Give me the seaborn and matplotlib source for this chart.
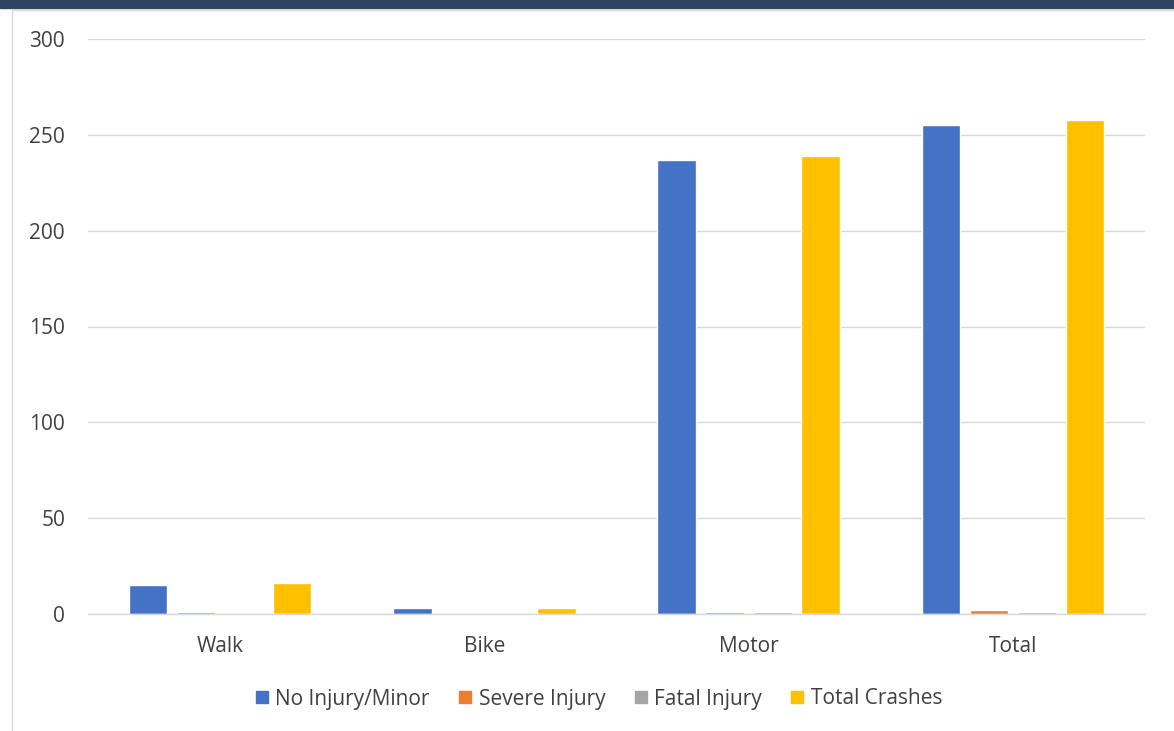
import matplotlib
matplotlib.use("Agg")
import matplotlib.pyplot as plt
import seaborn as sns
import pandas as pd
from matplotlib.patches import Rectangle
from matplotlib.lines import Line2D

categories = ["Walk", "Bike", "Motor", "Total"]
series_names = ["No Injury/Minor", "Severe Injury", "Fatal Injury", "Total Crashes"]
no_injury = [15, 3, 237, 255]
severe = [1, 0, 1, 2]
fatal = [0, 0, 1, 1]
total_crashes = [16, 3, 239, 258]
colors = ["#4472C4", "#ED7D31", "#A5A5A5", "#FFC000"]
yticks = [0, 50, 100, 150, 200, 250, 300]

rows = []
for name, vals in zip(series_names, [no_injury, severe, fatal, total_crashes]):
    for c, v in zip(categories, vals):
        rows.append({"Category": c, "Series": name, "Value": v})
df = pd.DataFrame(rows)

sns.set_theme(style="white")
plt.rcParams['font.family'] = ['Open Sans', 'DejaVu Sans']

fig = plt.figure(figsize=(11.74, 7.31), dpi=100)
ax = fig.add_axes([88/1174, 1 - 614/731, (1145-88)/1174, (614-39)/731])

sns.barplot(data=df, x="Category", y="Value", hue="Series", order=categories,
            hue_order=series_names, palette=colors, width=0.727, gap=0.2,
            saturation=1, ax=ax, legend=False)

ax.set_ylim(0, 300)
ax.set_xlim(-0.5, 3.5)
ax.set_yticks(yticks)
ax.yaxis.grid(True, color="#D9D9D9", linewidth=1)
ax.set_axisbelow(True)
for s in ["top", "right", "left"]:
    ax.spines[s].set_visible(False)
ax.spines["bottom"].set_color("#D9D9D9")
ax.spines["bottom"].set_linewidth(1)
ax.set_xlabel("")
ax.set_ylabel("")
ax.tick_params(axis="both", length=0, labelsize=15, colors="#404040")
ax.tick_params(axis="y", pad=16.5)
ax.tick_params(axis="x", pad=16)

# header strip and frame
fig.patches.append(Rectangle((0, 1 - 8/731), 1, 8/731, transform=fig.transFigure,
                             color="#2F4461", zorder=0))
fig.patches.append(Rectangle((12/1174, -0.01), 1.0, 1 - 10/731 + 0.01,
                             transform=fig.transFigure, fill=False,
                             edgecolor="#D9D9D9", linewidth=1, zorder=0))

handles = [Line2D([0], [0], marker="s", linestyle="", markersize=8.6,
                  markerfacecolor=c, markeredgecolor=c) for c in colors]
fig.legend(handles, series_names, loc="center", bbox_to_anchor=(597/1174, 1 - 699/731),
           ncol=4, frameon=False, fontsize=15, handletextpad=0.15, columnspacing=1.2,
           handlelength=1.0, labelcolor="#404040")

fig.savefig("out.png", dpi=100)
